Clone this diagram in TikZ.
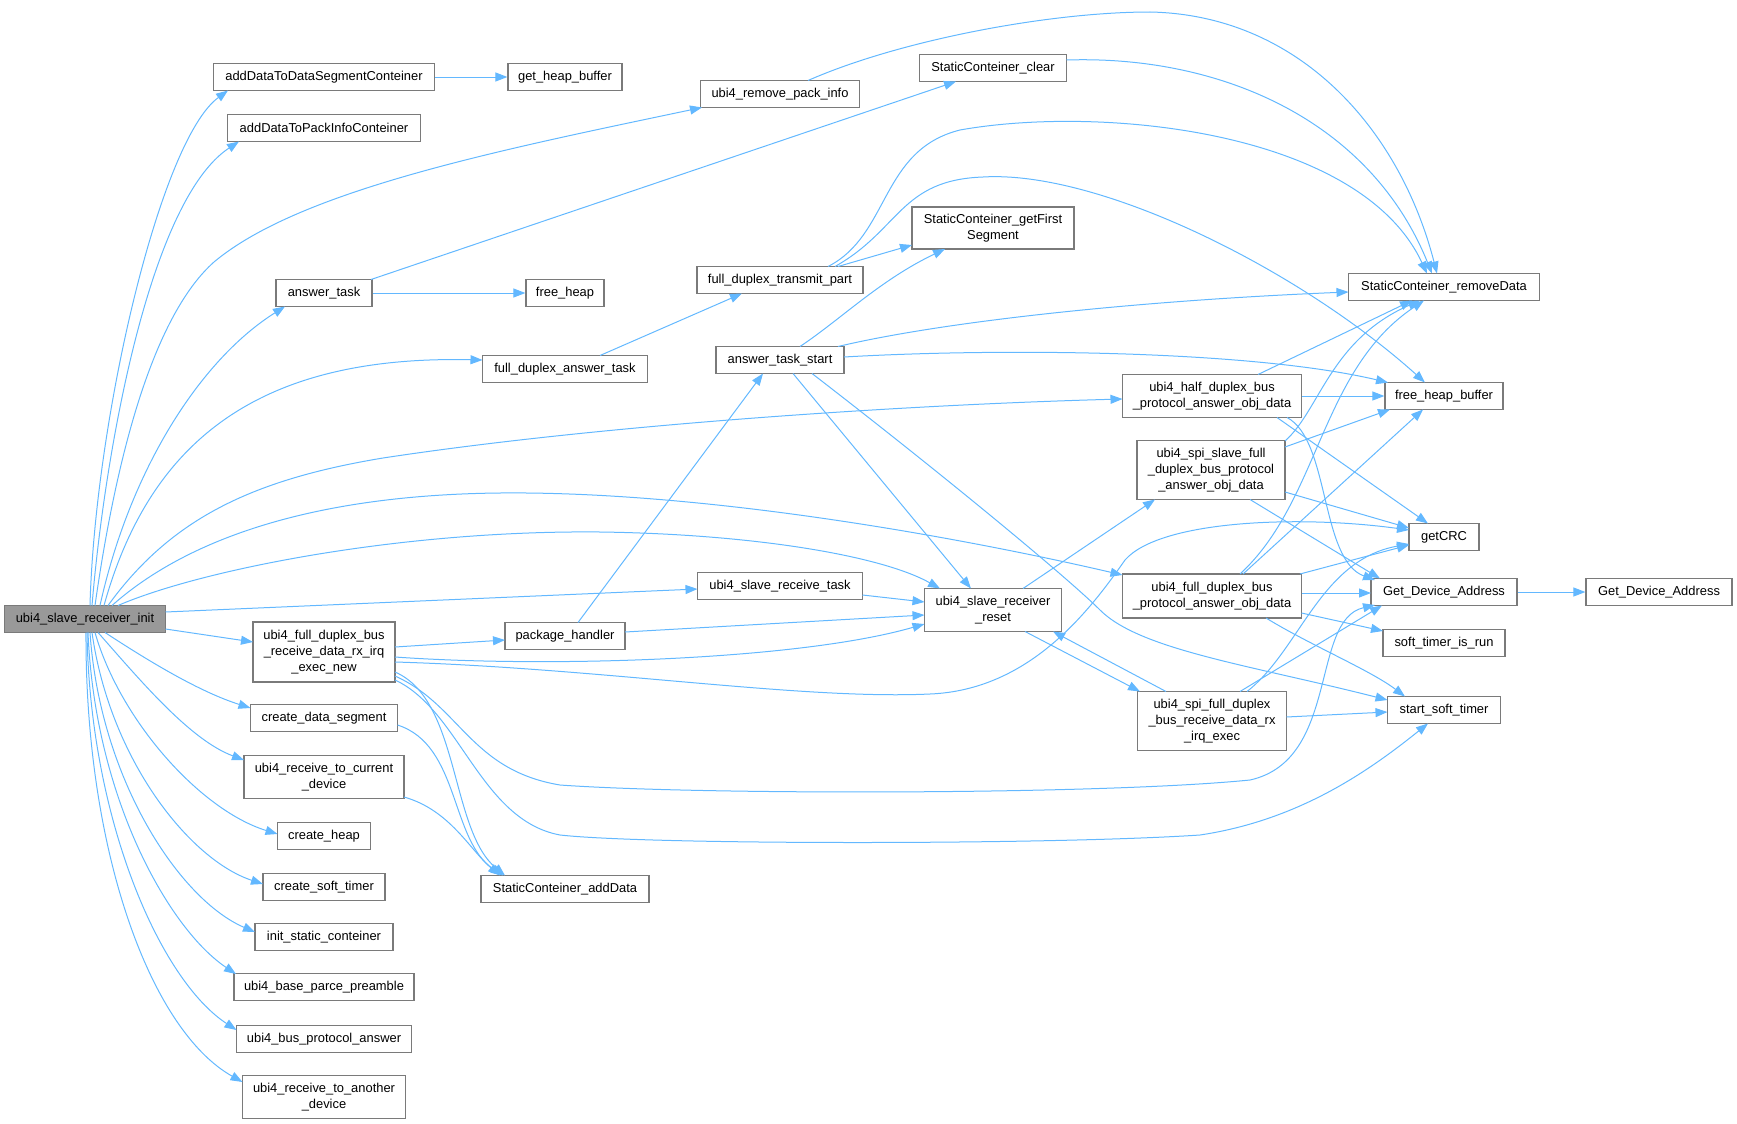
\documentclass[tikz,border=0pt]{standalone}
\usepackage{fontspec}
\setmainfont{Liberation Sans}
\usetikzlibrary{arrows.meta}
\definecolor{edgeblue}{HTML}{63B8FF}
\definecolor{boxgray}{HTML}{7A7A7A}
\definecolor{rootfill}{HTML}{999999}
\begin{document}
\begin{tikzpicture}[x=1pt,y=-1pt,
  box/.style={draw=boxgray,line width=1.2pt,fill=white,inner sep=0pt,align=center,font=\fontsize{12.9}{16}\selectfont},
  e/.style={draw=edgeblue,line width=1pt,-{Triangle[length=12pt,width=9pt]}}]
\useasboundingbox (0,0) rectangle (1737,1124);
% nodes
\node[box,minimum width=161pt,minimum height=27pt,fill=rootfill] (init) at (85,619) {ubi4\_slave\_receiver\_init};
\node[box,minimum width=221pt,minimum height=27pt] (addDS) at (324,77) {addDataToDataSegmentConteiner};
\node[box,minimum width=114pt,minimum height=27pt] (ghb) at (565,77) {get\_heap\_buffer};
\node[box,minimum width=193pt,minimum height=27pt] (addPI) at (324,128) {addDataToPackInfoConteiner};
\node[box,minimum width=96pt,minimum height=27pt] (antask) at (324,293) {answer\_task};
\node[box,minimum width=78pt,minimum height=27pt] (fh) at (565,293) {free\_heap};
\node[box,minimum width=165pt,minimum height=27pt] (fdat) at (565,369) {full\_duplex\_answer\_task};
\node[box,minimum width=142pt,minimum height=60pt] (irq) at (324,652) {ubi4\_full\_duplex\_bus\\\_receive\_data\_rx\_irq\\\_exec\_new};
\node[box,minimum width=120pt,minimum height=27pt] (pkg) at (565,636) {package\_handler};
\node[box,minimum width=147pt,minimum height=27pt] (cds) at (324,718) {create\_data\_segment};
\node[box,minimum width=160pt,minimum height=43pt] (rtc) at (324,777) {ubi4\_receive\_to\_current\\\_device};
\node[box,minimum width=93pt,minimum height=27pt] (ch) at (324,836) {create\_heap};
\node[box,minimum width=122pt,minimum height=27pt] (cst) at (324,887) {create\_soft\_timer};
\node[box,minimum width=138pt,minimum height=27pt] (isc) at (324,937) {init\_static\_conteiner};
\node[box,minimum width=180pt,minimum height=27pt] (bpp) at (324,987) {ubi4\_base\_parce\_preamble};
\node[box,minimum width=175pt,minimum height=27pt] (bpa) at (324,1039) {ubi4\_bus\_protocol\_answer};
\node[box,minimum width=163pt,minimum height=43pt] (rta) at (324,1097) {ubi4\_receive\_to\_another\\\_device};
\node[box,minimum width=168pt,minimum height=27pt] (sca) at (565,889) {StaticConteiner\_addData};
\node[box,minimum width=159pt,minimum height=27pt] (rpi) at (780,94) {ubi4\_remove\_pack\_info};
\node[box,minimum width=166pt,minimum height=27pt] (fdtp) at (780,280) {full\_duplex\_transmit\_part};
\node[box,minimum width=128pt,minimum height=27pt] (ats) at (780,360) {answer\_task\_start};
\node[box,minimum width=165pt,minimum height=27pt] (srt) at (780,586) {ubi4\_slave\_receive\_task};
\node[box,minimum width=147pt,minimum height=27pt] (scc) at (993,68) {StaticConteiner\_clear};
\node[box,minimum width=162pt,minimum height=42pt] (gfs) at (993,228) {StaticConteiner\_getFirst\\Segment};
\node[box,minimum width=137pt,minimum height=43pt] (rst) at (993,610) {ubi4\_slave\_receiver\\\_reset};
\node[box,minimum width=179pt,minimum height=43pt] (half) at (1212,396) {ubi4\_half\_duplex\_bus\\\_protocol\_answer\_obj\_data};
\node[box,minimum width=148pt,minimum height=59pt] (spis) at (1211,470) {ubi4\_spi\_slave\_full\\\_duplex\_bus\_protocol\\\_answer\_obj\_data};
\node[box,minimum width=179pt,minimum height=44pt] (fdb) at (1212,596) {ubi4\_full\_duplex\_bus\\\_protocol\_answer\_obj\_data};
\node[box,minimum width=149pt,minimum height=59pt] (spif) at (1212,721) {ubi4\_spi\_full\_duplex\\\_bus\_receive\_data\_rx\\\_irq\_exec};
\node[box,minimum width=191pt,minimum height=27pt] (scrm) at (1444,287) {StaticConteiner\_removeData};
\node[box,minimum width=118pt,minimum height=27pt] (fhb) at (1444,396) {free\_heap\_buffer};
\node[box,minimum width=70pt,minimum height=27pt] (crc) at (1444,537) {getCRC};
\node[box,minimum width=146pt,minimum height=27pt] (gda) at (1444,592) {Get\_Device\_Address};
\node[box,minimum width=122pt,minimum height=27pt] (stir) at (1444,643) {soft\_timer\_is\_run};
\node[box,minimum width=113pt,minimum height=27pt] (sst) at (1444,710) {start\_soft\_timer};
\node[box,minimum width=146pt,minimum height=27pt] (gdb) at (1659,592) {Get\_Device\_Address};
% edges from init (upwards)
\draw[e] ([shift={(5,-13.5)}]init.center) .. controls (95,420) and (160,140) .. ([shift={(-96,13.5)}]addDS.center);
\draw[e] ([shift={(7,-13.5)}]init.center) .. controls (105,450) and (150,200) .. ([shift={(-85,13.5)}]addPI.center);
\draw[e] ([shift={(10,-13.5)}]init.center) .. controls (120,430) and (160,310) .. (214,262) .. controls (300,190) and (500,150) .. ([shift={(-78,13.5)}]rpi.center);
\draw[e] ([shift={(15,-13.5)}]init.center) .. controls (130,470) and (200,360) .. ([shift={(-39,13.5)}]antask.center);
\draw[e] ([shift={(19,-13.5)}]init.center) .. controls (150,440) and (260,355) .. ([shift={(-82.5,-9)}]fdat.center);
\draw[e] ([shift={(23,-13.5)}]init.center) .. controls (170,520) and (250,480) .. (383,458) .. controls (600,425) and (900,405) .. ([shift={(-89.5,3)}]half.center);
\draw[e] ([shift={(27,-13.5)}]init.center) .. controls (180,545) and (300,495) .. (500,493) .. controls (700,491) and (950,535) .. ([shift={(-89.5,-21)}]fdb.center);
\draw[e] ([shift={(33,-13.5)}]init.center) .. controls (200,570) and (400,530) .. (600,532) .. controls (750,534) and (880,555) .. ([shift={(-53,-21.5)}]rst.center);
\draw[e] ([shift={(80.5,-7)}]init.center) -- ([shift={(-82.5,3)}]srt.center);
% edges from init (downwards)
\draw[e] ([shift={(80.5,10)}]init.center) -- ([shift={(-71,-10)}]irq.center);
\draw[e] ([shift={(20,13.5)}]init.center) .. controls (150,662) and (200,692) .. ([shift={(-73.5,-10)}]cds.center);
\draw[e] ([shift={(13,13.5)}]init.center) .. controls (140,680) and (190,740) .. ([shift={(-80,-17)}]rtc.center);
\draw[e] ([shift={(10,13.5)}]init.center) .. controls (120,720) and (200,810) .. ([shift={(-46.5,-2)}]ch.center);
\draw[e] ([shift={(7,13.5)}]init.center) .. controls (110,760) and (190,860) .. ([shift={(-61,-3)}]cst.center);
\draw[e] ([shift={(5,13.5)}]init.center) .. controls (100,780) and (180,900) .. ([shift={(-69,-5)}]isc.center);
\draw[e] ([shift={(3,13.5)}]init.center) .. controls (95,800) and (170,930) .. ([shift={(-88,-13)}]bpp.center);
\draw[e] ([shift={(2,13.5)}]init.center) .. controls (90,820) and (160,980) .. ([shift={(-87.5,-9)}]bpa.center);
\draw[e] ([shift={(1,13.5)}]init.center) .. controls (85,850) and (150,1030) .. ([shift={(-81.5,-15)}]rta.center);
% second level
\draw[e] (addDS) -- (ghb);
\draw[e] ([shift={(47,-13.5)}]antask.center) -- ([shift={(-37,13.5)}]scc.center);
\draw[e] (antask) -- (fh);
\draw[e] ([shift={(28,-13.5)}]rpi.center) .. controls (900,40) and (1050,12) .. (1150,12) .. controls (1300,15) and (1400,130) .. ([shift={(-7,-13.5)}]scrm.center);
\draw[e] ([shift={(73.5,-8)}]scc.center) .. controls (1220,55) and (1370,120) .. ([shift={(-12,-13.5)}]scrm.center);
\draw[e] ([shift={(35,-13.5)}]fdat.center) -- ([shift={(-38,13.5)}]fdtp.center);
\draw[e] ([shift={(58,-13.5)}]fdtp.center) -- ([shift={(-81,17)}]gfs.center);
\draw[e] ([shift={(48,-13.5)}]fdtp.center) .. controls (890,235) and (880,150) .. (960,130) .. controls (1100,105) and (1360,130) .. ([shift={(-17,-13.5)}]scrm.center);
\draw[e] ([shift={(55,-13.5)}]fdtp.center) .. controls (900,230) and (900,180) .. (983,177) .. controls (1100,170) and (1300,270) .. ([shift={(-19,-13.5)}]fhb.center);
\draw[e] ([shift={(20,-13.5)}]ats.center) .. controls (840,320) and (880,280) .. ([shift={(-48,21)}]gfs.center);
\draw[e] ([shift={(58,-13.5)}]ats.center) .. controls (950,320) and (1150,300) .. ([shift={(-95.5,5)}]scrm.center);
\draw[e] ([shift={(64,-3)}]ats.center) .. controls (1000,348) and (1250,350) .. ([shift={(-56,-13.5)}]fhb.center);
\draw[e] ([shift={(13,13.5)}]ats.center) -- ([shift={(-22,-21.5)}]rst.center);
\draw[e] ([shift={(32,13.5)}]ats.center) .. controls (950,480) and (1070,580) .. (1100,610) .. controls (1140,650) and (1250,665) .. ([shift={(-56.5,-10)}]sst.center);
\draw[e] ([shift={(13,-13.5)}]pkg.center) -- ([shift={(-17,13.5)}]ats.center);
\draw[e] ([shift={(60,-4)}]pkg.center) -- ([shift={(-68.5,5)}]rst.center);
\draw[e] ([shift={(82.5,9)}]srt.center) -- ([shift={(-68.5,-8)}]rst.center);
\draw[e] ([shift={(71,-5)}]irq.center) -- ([shift={(-60,4)}]pkg.center);
\draw[e] ([shift={(71,5)}]irq.center) .. controls (550,668) and (800,660) .. ([shift={(-68.5,14)}]rst.center);
\draw[e] ([shift={(71,10)}]irq.center) .. controls (600,668) and (800,700) .. (930,694) .. controls (1030,690) and (1090,610) .. (1125,560) .. controls (1160,520) and (1300,515) .. ([shift={(-35,-7)}]crc.center);
\draw[e] ([shift={(71,20)}]irq.center) .. controls (460,700) and (450,830) .. ([shift={(-60,-13.5)}]sca.center);
\draw[e] ([shift={(71,24)}]irq.center) .. controls (460,705) and (470,770) .. (560,785) .. controls (700,795) and (1100,795) .. (1250,780) .. controls (1340,760) and (1310,620) .. ([shift={(-69,13)}]gda.center);
\draw[e] ([shift={(71,28)}]irq.center) .. controls (460,710) and (480,820) .. (560,835) .. controls (650,845) and (1050,845) .. (1200,835) .. controls (1300,820) and (1370,770) .. ([shift={(-16,13.5)}]sst.center);
\draw[e] ([shift={(73.5,7)}]cds.center) .. controls (460,745) and (450,840) .. ([shift={(-62,-13.5)}]sca.center);
\draw[e] ([shift={(80,20)}]rtc.center) .. controls (450,810) and (470,850) .. ([shift={(-65,-13.5)}]sca.center);
% reset and right part
\draw[e] ([shift={(30,-21.5)}]rst.center) -- ([shift={(-56,29.5)}]spis.center);
\draw[e] ([shift={(32,21.5)}]rst.center) -- ([shift={(-72,-29.5)}]spif.center);
\draw[e] ([shift={(-46,-29.5)}]spif.center) -- ([shift={(60,21.5)}]rst.center);
\draw[e] (half) -- (fhb);
\draw[e] ([shift={(46,-21.5)}]half.center) -- ([shift={(-32,13.5)}]scrm.center);
\draw[e] ([shift={(65,21.5)}]half.center) -- ([shift={(-16,-13.5)}]crc.center);
\draw[e] ([shift={(75,21.5)}]half.center) .. controls (1330,440) and (1320,560) .. ([shift={(-69,-12)}]gda.center);
\draw[e] ([shift={(74,-23)}]spis.center) -- ([shift={(-54,13.5)}]fhb.center);
\draw[e] ([shift={(74,-29)}]spis.center) .. controls (1320,410) and (1330,340) .. ([shift={(-24,13.5)}]scrm.center);
\draw[e] ([shift={(74,22)}]spis.center) -- ([shift={(-35,-9)}]crc.center);
\draw[e] ([shift={(39,29.5)}]spis.center) -- ([shift={(-64,-13.5)}]gda.center);
\draw[e] ([shift={(31,-22)}]fdb.center) -- ([shift={(-21,13.5)}]fhb.center);
\draw[e] ([shift={(28,-22)}]fdb.center) .. controls (1320,500) and (1320,370) .. ([shift={(-20,13.5)}]scrm.center);
\draw[e] ([shift={(88,-22)}]fdb.center) -- ([shift={(-35,8)}]crc.center);
\draw[e] ([shift={(89.5,-3)}]fdb.center) -- ([shift={(-73,1)}]gda.center);
\draw[e] ([shift={(89.5,17)}]fdb.center) -- ([shift={(-61,-12)}]stir.center);
\draw[e] ([shift={(54,22)}]fdb.center) .. controls (1310,645) and (1370,670) .. ([shift={(-39,-13.5)}]sst.center);
\draw[e] ([shift={(74.5,-4)}]spif.center) -- ([shift={(-56.5,2)}]sst.center);
\draw[e] ([shift={(28,-29.5)}]spif.center) -- ([shift={(-62,13.5)}]gda.center);
\draw[e] ([shift={(35,-29.5)}]spif.center) .. controls (1300,650) and (1320,560) .. ([shift={(-35,7)}]crc.center);
\draw[e] (gda) -- (gdb);
\end{tikzpicture}
\end{document}
